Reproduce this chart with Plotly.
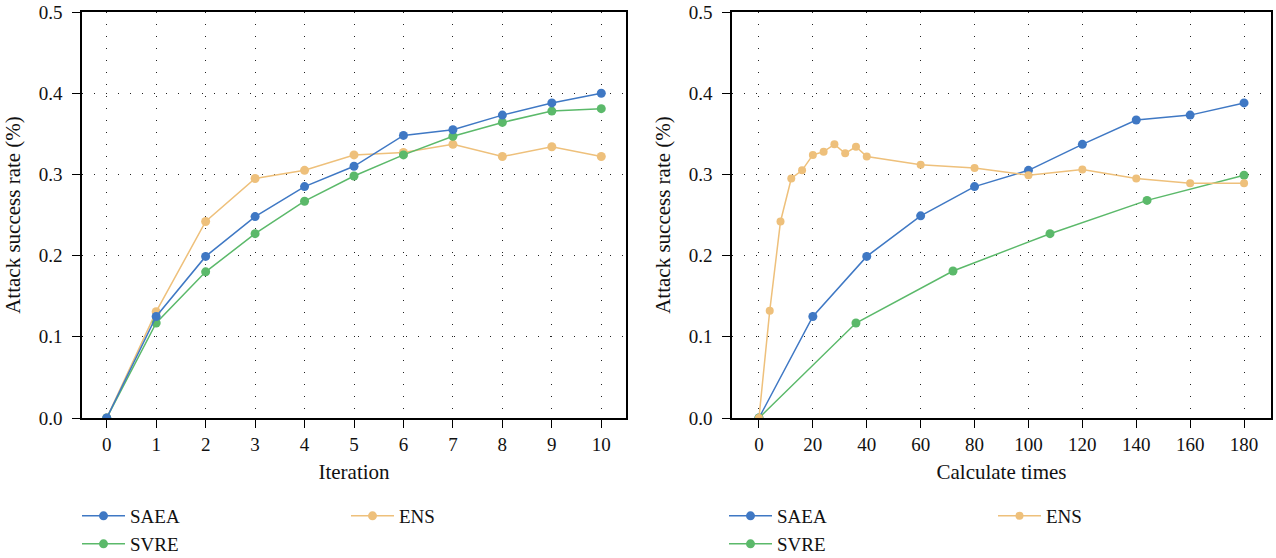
import plotly.graph_objects as go

# ---------------- data ----------------
iter_x = [0, 1, 2, 3, 4, 5, 6, 7, 8, 9, 10]
saea_iter = [0.0, 0.125, 0.199, 0.248, 0.285, 0.310, 0.348, 0.355, 0.373, 0.388, 0.400]
svre_iter = [0.0, 0.117, 0.180, 0.227, 0.267, 0.298, 0.324, 0.347, 0.364, 0.378, 0.381]
ens_iter = [0.0, 0.131, 0.242, 0.295, 0.305, 0.324, 0.327, 0.337, 0.322, 0.334, 0.322]

saea_calc_x = [0, 20, 40, 60, 80, 100, 120, 140, 160, 180]
saea_calc = [0.0, 0.125, 0.199, 0.249, 0.285, 0.305, 0.337, 0.367, 0.373, 0.388]
svre_calc_x = [0, 36, 72, 108, 144, 180]
svre_calc = [0.0, 0.117, 0.181, 0.227, 0.268, 0.299]
ens_calc_x = [0, 4, 8, 12, 16, 20, 24, 28, 32, 36, 40, 60, 80, 100, 120, 140, 160, 180]
ens_calc = [0.0, 0.132, 0.242, 0.295, 0.305, 0.324, 0.328, 0.337, 0.326, 0.334, 0.322,
            0.312, 0.308, 0.299, 0.306, 0.295, 0.289, 0.289]

iter_ticks = list(range(0, 11))
calc_ticks = list(range(0, 181, 20))
y_ticks = [0.0, 0.1, 0.2, 0.3, 0.4, 0.5]

# ---------------- styles ----------------
BLUE = "#3f78c4"
GREEN = "#5bb96a"
ORANGE = "#eec07b"
FONT = "Liberation Serif, Times New Roman, serif"
FS = 19
TFS = 21

W, H = 1276, 558
def px_x(p):
    return p / W
def px_y(p):
    return 1 - p / H

fig = go.Figure()

def add(x, y, name, color, xa, ya, legend, size=9):
    fig.add_trace(go.Scatter(
        x=x, y=y, name=name, mode="lines+markers",
        line=dict(color=color, width=1.5),
        marker=dict(color=color, size=size),
        xaxis=xa, yaxis=ya, legend=legend, showlegend=True,
    ))

# left panel (drawing order: ENS, SVRE, SAEA on top)
add(iter_x, ens_iter, "ENS", ORANGE, "x", "y", "legend")
add(iter_x, svre_iter, "SVRE", GREEN, "x", "y", "legend2")
add(iter_x, saea_iter, "SAEA", BLUE, "x", "y", "legend")

# right panel
add(saea_calc_x, saea_calc, "SAEA", BLUE, "x2", "y2", "legend3")
add(svre_calc_x, svre_calc, "SVRE", GREEN, "x2", "y2", "legend4")
add(ens_calc_x, ens_calc, "ENS", ORANGE, "x2", "y2", "legend3", size=8)

grid = dict(showgrid=True, gridcolor="#222", gridwidth=1, griddash="1px,11px")
axis_common = dict(
    showline=True, linecolor="black", linewidth=1.5, mirror=True,
    ticks="outside", ticklen=8, tickwidth=1.2, tickcolor="black",
    tickfont=dict(family=FONT, size=FS, color="#111"),
    zeroline=False, automargin=False, ticklabeloverflow="allow",
)

yd = [px_y(418), px_y(12)]

fig.update_layout(
    width=W, height=H,
    margin=dict(l=0, r=0, t=0, b=0, autoexpand=False),
    paper_bgcolor="white", plot_bgcolor="white",
    font=dict(family=FONT, size=FS, color="#111"),
    xaxis=dict(domain=[px_x(82), px_x(626)], range=[-0.5, 10.5], tickvals=iter_ticks,
               title=dict(text="Iteration", font=dict(family=FONT, size=TFS), standoff=11),
               anchor="y", ticklabelstandoff=0, **grid, **axis_common),
    yaxis=dict(domain=yd, range=[0, 0.5], tickvals=y_ticks, tickformat=".1f",
               title=dict(text="Attack success rate (%)", font=dict(family=FONT, size=TFS), standoff=12),
               anchor="x", ticklabelstandoff=6, **grid, **axis_common),
    xaxis2=dict(domain=[px_x(732), px_x(1271)], range=[-10, 190], tickvals=calc_ticks,
                title=dict(text="Calculate times", font=dict(family=FONT, size=TFS), standoff=11),
                anchor="y2", ticklabelstandoff=0, **grid, **axis_common),
    yaxis2=dict(domain=yd, range=[0, 0.5], tickvals=y_ticks, tickformat=".1f",
                title=dict(text="Attack success rate (%)", font=dict(family=FONT, size=TFS), standoff=12),
                anchor="x2", ticklabelstandoff=6, **grid, **axis_common),
)

leg_common = dict(orientation="h", entrywidth=211, entrywidthmode="pixels",
                  font=dict(family=FONT, size=FS, color="#111"),
                  bgcolor="rgba(0,0,0,0)", yanchor="middle", xanchor="left",
                  itemwidth=43)
fig.update_layout(
    legend=dict(x=px_x(77), y=px_y(516), traceorder="reversed", **leg_common),
    legend2=dict(x=px_x(77), y=px_y(544), **leg_common),
    legend3=dict(x=px_x(724), y=px_y(516), **leg_common),
    legend4=dict(x=px_x(724), y=px_y(544), **leg_common),
)

# remove the default 8px page margin so the figure fills the window exactly
fig.write_html("out.html",
               config={"displayModeBar": False},
               post_script="document.body.style.margin='0';document.body.style.overflow='hidden';")
